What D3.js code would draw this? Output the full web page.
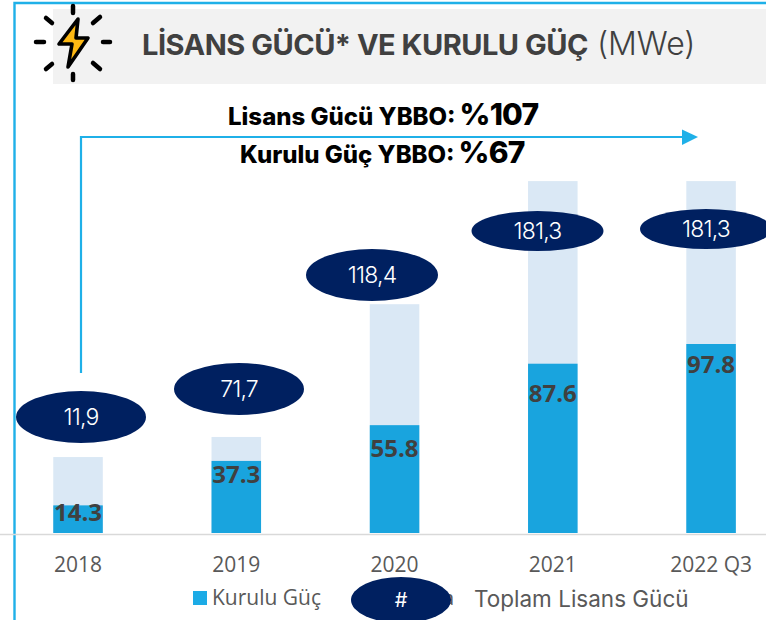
<!DOCTYPE html>
<html lang="tr"><head><meta charset="utf-8">
<script src="https://cdn.jsdelivr.net/npm/d3@7"></script>
<style>html,body{margin:0;padding:0;background:#fff;overflow:hidden}svg{display:block}</style>
</head><body><svg id="c" width="766" height="620"></svg>
<script>
const categories = ["2018","2019","2020","2021","2022 Q3"];
const kuruluGuc = [14.3,37.3,55.8,87.6,97.8];
const lisansBar = [39.3,49.7,118.4,182.1,182.1];
const lisansLabels = ["11,9","71,7","118,4","181,3","181,3"];
const legendNames = ["Kurulu Güç","Toplam Lisans Gücü"];

const BLUE="#19a4de", FRAME="#1fb0e8", LIGHT="#dae8f5", NAVY="#002060", GRAY="#595959";
const POP="Inter,'Noto Sans',sans-serif", CAL="'Open Sans','Noto Sans',sans-serif";
const svg=d3.select("#c");
const x=d3.scaleBand().domain(categories).range([-1.1,790.2]).paddingInner(0.687).paddingOuter(0.3435);
const y=d3.scaleLinear().domain([0,100]).range([533,339.75]);
const bw=x.bandwidth();

// title band and frame
svg.append("rect").attr("x",53).attr("y",9).attr("width",713).attr("height",75).attr("fill","#f2f2f2");
svg.append("path").attr("d","M766,3H14.5V620").attr("fill","none").attr("stroke",FRAME).attr("stroke-width",2.4);

// icon
const ic=svg.append("g").attr("stroke","#000").attr("stroke-linecap","round").attr("stroke-linejoin","round");
[[73,6,73,13],[73,74,73,80],[36,42,44,42],[103,42,110,42],[46,18,52,23],[100,17,93,23],[46,69,52,64],[100,69,93,63]]
 .forEach(r=>ic.append("line").attr("x1",r[0]).attr("y1",r[1]).attr("x2",r[2]).attr("y2",r[3]).attr("stroke-width",4.5));
ic.append("path").attr("d","M78,19L59,44H72L68,67L88,38H76Z").attr("fill","#fdb813").attr("stroke-width",3.6);

// title
const t=svg.append("text").attr("x",142).attr("y",55).attr("font-family",POP).attr("fill","#404040");
t.append("tspan").attr("font-size",29).attr("font-weight",700).attr("letter-spacing",-0.5).text("LİSANS GÜCÜ* VE KURULU GÜÇ");
t.append("tspan").attr("font-size",32).attr("font-weight",300).attr("dx",9).text("(MWe)");

// CAGR lines
function cagr(x0,yy,label,val){
  const g=svg.append("text").attr("y",yy).attr("font-family",POP).attr("font-weight",800).attr("fill","#000").attr("x",x0);
  g.append("tspan").attr("font-size",24).text(label);
  g.append("tspan").attr("font-size",30).attr("dx",4).attr("letter-spacing",-0.8).text(val);
}
cagr(228,125,"Lisans Gücü YBBO:","%107");
cagr(240,163,"Kurulu Güç YBBO:","%67");

// arrow
svg.append("path").attr("d","M81,373V137H684").attr("fill","none").attr("stroke",FRAME).attr("stroke-width",2.2);
svg.append("path").attr("d","M682,129.5L698,137L682,145Z").attr("fill",FRAME);

// bars
svg.append("g").selectAll("rect").data(categories).join("rect")
  .attr("x",d=>x(d)).attr("width",bw).attr("y",(d,i)=>y(lisansBar[i])).attr("height",(d,i)=>y(0)-y(lisansBar[i])).attr("fill",LIGHT);
svg.append("g").selectAll("rect").data(categories).join("rect")
  .attr("x",d=>x(d)).attr("width",bw).attr("y",(d,i)=>y(kuruluGuc[i])).attr("height",(d,i)=>y(0)-y(kuruluGuc[i])).attr("fill",BLUE);

// bar value labels
svg.append("g").selectAll("text").data(categories).join("text")
  .attr("x",d=>x(d)+bw/2).attr("y",(d,i)=>y(kuruluGuc[i])+(i===0?16:i===3?38:i===4?29:i===2?32:22))
  .attr("text-anchor","middle").attr("font-family",CAL).attr("font-weight",700).attr("font-size",24).attr("fill","#404040")
  .text((d,i)=>kuruluGuc[i].toFixed(1));

// axis
const ax=svg.append("g").attr("transform","translate(0,534.5)").call(d3.axisBottom(x).tickSize(0).tickPadding(23));
ax.select(".domain").remove();
ax.append("line").attr("x1",0).attr("x2",766).attr("stroke","#d9d9d9").attr("stroke-width",1.5);
ax.selectAll(".tick text").attr("font-family",CAL).attr("font-size",21).attr("fill",GRAY);

// total-licence ovals (annotation layout)
const ovals=[[81,417,65,26],[239,389,65,26],[372,275,66,26],[537.5,231,66,20],[706,229,66,20]];
const og=svg.append("g").selectAll("g").data(categories).join("g").attr("transform",(d,i)=>`translate(${ovals[i][0]},${ovals[i][1]})`);
og.append("ellipse").attr("rx",(d,i)=>ovals[i][2]).attr("ry",(d,i)=>ovals[i][3]).attr("fill",NAVY);
og.append("text").attr("text-anchor","middle").attr("y",8).attr("font-family",POP).attr("font-weight",300).attr("font-size",23).attr("letter-spacing",-0.8).attr("fill","#fff").text((d,i)=>lisansLabels[i]);

// legend
svg.append("rect").attr("x",193).attr("y",591).attr("width",14).attr("height",14).attr("fill","#1cabe6");
svg.append("text").attr("x",212).attr("y",605).attr("font-family",CAL).attr("font-size",21).attr("fill",GRAY).text(legendNames[0]);
svg.append("text").attr("x",443).attr("y",605).attr("font-family",CAL).attr("font-size",20).attr("fill",GRAY).text("a");
svg.append("ellipse").attr("cx",401).attr("cy",600).attr("rx",50).attr("ry",23).attr("fill",NAVY);
svg.append("text").attr("x",401).attr("y",607).attr("text-anchor","middle").attr("font-family",POP).attr("font-size",20).attr("fill","#fff").text("#");
svg.append("text").attr("x",474).attr("y",607).attr("font-family",POP).attr("font-size",22.5).attr("fill",GRAY).text(legendNames[1]);
</script></body></html>
